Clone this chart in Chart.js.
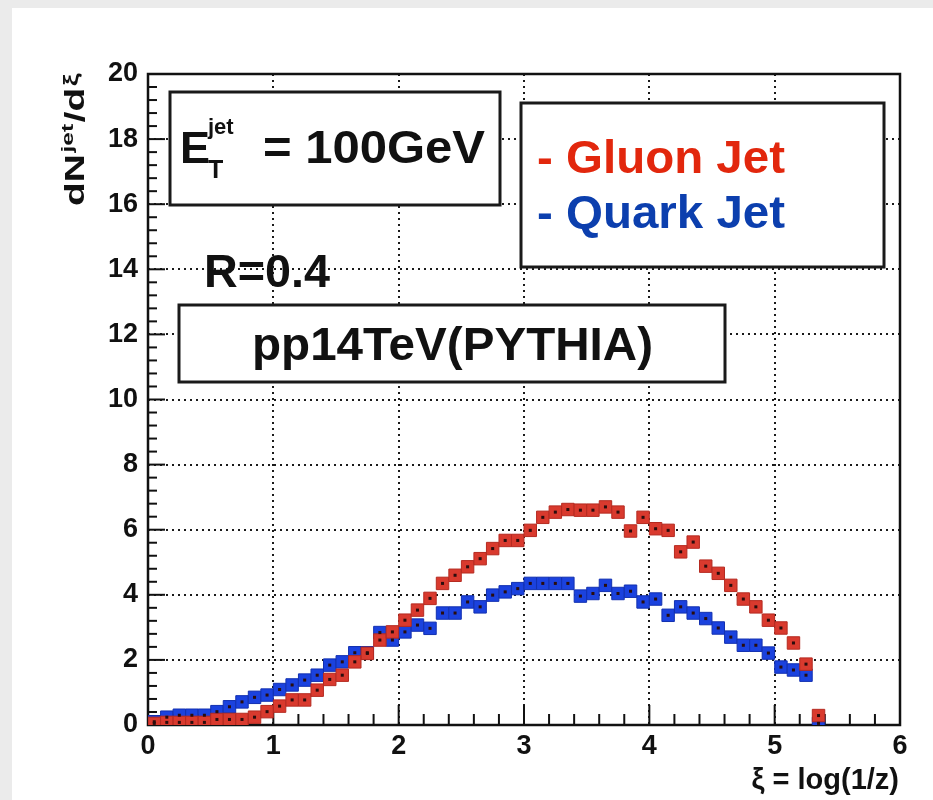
<!DOCTYPE html>
<html><head><meta charset="utf-8">
<script src="https://cdn.jsdelivr.net/npm/chart.js@4.4.1/dist/chart.umd.min.js"></script>
<style>html,body{margin:0;padding:0;background:#ebebeb;}canvas{display:block;}</style>
</head><body>
<canvas id="c" width="933" height="800"></canvas>
<script>
// xi = log(1/z) bin centres
const xiCenters = [0.05,0.15,0.25,0.35,0.45,0.55,0.65,0.75,0.85,0.95,
  1.05,1.15,1.25,1.35,1.45,1.55,1.65,1.75,1.85,1.95,
  2.05,2.15,2.25,2.35,2.45,2.55,2.65,2.75,2.85,2.95,
  3.05,3.15,3.25,3.35,3.45,3.55,3.65,3.75,3.85,3.95,
  4.05,4.15,4.25,4.35,4.45,4.55,4.65,4.75,4.85,4.95,
  5.05,5.15,5.25,5.35];
// dN/dxi, gluon jet (red)
const gluonJet = [0.05,0.08,0.08,0.08,0.08,0.17,0.17,0.17,0.24,0.41,
  0.58,0.77,0.77,1.07,1.40,1.53,1.94,2.20,2.61,2.86,
  3.22,3.53,3.89,4.35,4.60,4.86,5.11,5.42,5.67,5.67,
  5.98,6.38,6.54,6.62,6.60,6.60,6.70,6.54,5.96,6.38,
  6.03,5.98,5.32,5.62,4.88,4.66,4.29,3.87,3.63,3.22,
  2.98,2.52,1.87,0.29];
// dN/dxi, quark jet (blue)
const quarkJet = [0.10,0.24,0.30,0.30,0.30,0.41,0.56,0.71,0.85,0.92,
  1.09,1.23,1.38,1.53,1.84,1.94,2.22,2.22,2.84,2.61,
  2.86,3.07,2.97,3.44,3.44,3.78,3.63,3.99,4.09,4.19,
  4.35,4.35,4.35,4.35,3.96,4.04,4.29,4.04,4.11,3.78,
  3.87,3.37,3.63,3.44,3.27,2.98,2.70,2.45,2.45,2.21,
  1.78,1.69,1.53,0.05];
const xTicks = [0,1,2,3,4,5,6];
const yTicks = [0,2,4,6,8,10,12,14,16,18,20];

const RED = '#d93a2e', RED_EDGE = '#b52a20';
const BLUE = '#1b42de', BLUE_EDGE = '#1230b0';
const FONT = '"Liberation Sans", Arial, Helvetica, sans-serif';

function fitText(ctx, text, x, y, size, targetW, color){
  ctx.save();
  ctx.font = 'bold ' + size + 'px ' + FONT;
  ctx.fillStyle = color || '#111';
  ctx.textBaseline = 'alphabetic';
  ctx.textAlign = 'left';
  const w = ctx.measureText(text).width;
  ctx.translate(x, y);
  if (targetW) ctx.scale(targetW / w, 1);
  ctx.fillText(text, 0, 0);
  ctx.restore();
}

const decor = {
  id: 'decor',
  beforeDraw(chart){
    const c = chart.ctx;
    c.save();
    c.fillStyle = '#ebebeb'; c.fillRect(0, 0, chart.width, chart.height);
    c.fillStyle = '#ffffff'; c.fillRect(12, 8, chart.width - 12, chart.height - 8);
    c.restore();
  },
  beforeDatasetsDraw(chart){
    const {ctx, chartArea: a, scales: {x, y}} = chart;
    ctx.save();
    // dotted grid at major ticks
    ctx.strokeStyle = '#1a1a1a'; ctx.lineWidth = 2; ctx.setLineDash([2, 4]);
    xTicks.forEach(v => {
      if (v <= x.min || v >= x.max) return;
      const px = Math.round(x.getPixelForValue(v));
      ctx.beginPath(); ctx.moveTo(px, a.top); ctx.lineTo(px, a.bottom); ctx.stroke();
    });
    yTicks.forEach(v => {
      if (v <= y.min || v >= y.max) return;
      const py = Math.round(y.getPixelForValue(v));
      ctx.beginPath(); ctx.moveTo(a.left, py); ctx.lineTo(a.right, py); ctx.stroke();
    });
    ctx.setLineDash([]);
    // ticks pointing inside
    ctx.strokeStyle = '#111'; ctx.lineWidth = 2;
    for (let i = 0; i <= 30; i++) {
      const px = x.getPixelForValue(i * 0.2);
      const len = (i % 5 === 0) ? 20 : 11;
      ctx.beginPath(); ctx.moveTo(px, a.bottom); ctx.lineTo(px, a.bottom - len); ctx.stroke();
    }
    for (let i = 0; i <= 50; i++) {
      const py = y.getPixelForValue(i * 0.4);
      const len = (i % 5 === 0) ? 17 : 9;
      ctx.beginPath(); ctx.moveTo(a.left, py); ctx.lineTo(a.left + len, py); ctx.stroke();
    }
    // frame
    ctx.lineWidth = 2.5; ctx.strokeStyle = '#111';
    ctx.strokeRect(a.left, a.top, a.right - a.left, a.bottom - a.top);
    ctx.restore();
  },
  afterDatasetsDraw(chart){
    const ctx = chart.ctx;
    ctx.save();
    ctx.fillStyle = '#2a0d0d';
    chart.data.datasets.forEach((ds, i) => {
      chart.getDatasetMeta(i).data.forEach(el => {
        ctx.fillRect(el.x - 1.5, el.y - 1.5, 3, 3);
      });
    });
    ctx.restore();
  },
  afterDraw(chart){
    const ctx = chart.ctx;
    ctx.save();
    // boxes
    ctx.fillStyle = '#fff'; ctx.strokeStyle = '#1a1a1a'; ctx.lineWidth = 3;
    ctx.fillRect(170, 92, 330, 113); ctx.strokeRect(170, 92, 330, 113);
    ctx.fillRect(521, 103, 363, 164); ctx.strokeRect(521, 103, 363, 164);
    ctx.fillRect(179, 305, 546, 77); ctx.strokeRect(179, 305, 546, 77);
    // E_T^jet = 100GeV
    fitText(ctx, 'E', 180, 163, 45, 0, '#111');
    fitText(ctx, 'jet', 208, 134, 22, 0, '#111');
    fitText(ctx, 'T', 208, 178, 25, 0, '#111');
    fitText(ctx, '= 100GeV', 263, 163, 46, 222, '#111');
    // legend texts
    fitText(ctx, '- Gluon Jet', 537, 173, 46, 248, '#e2270d');
    fitText(ctx, '- Quark Jet', 537, 228, 46, 248, '#0c3fae');
    // R=0.4
    fitText(ctx, 'R=0.4', 204, 287, 46, 126, '#111');
    // pp14TeV(PYTHIA)
    fitText(ctx, 'pp14TeV(PYTHIA)', 252, 360, 46, 401, '#111');
    // x-axis title
    ctx.font = 'bold 29px ' + FONT;
    ctx.fillStyle = '#111'; ctx.textAlign = 'right'; ctx.textBaseline = 'alphabetic';
    ctx.fillText('\u03BE = log(1/z)', 899, 789);
    // y-axis title, rotated
    ctx.translate(84, 206);
    ctx.rotate(-Math.PI / 2);
    ctx.textAlign = 'left';
    const parts = [
      {t: 'dN', s: 27, dy: 0},
      {t: 'jet', s: 17, dy: -11},
      {t: '/d', s: 27, dy: 0},
      {t: '\u03BE', s: 20, dy: -6}
    ];
    let total = 0;
    parts.forEach(p => { ctx.font = 'bold ' + p.s + 'px ' + FONT; p.w = ctx.measureText(p.t).width; total += p.w + 1; });
    ctx.scale(134 / total, 1);
    let cx = 0;
    parts.forEach(p => {
      ctx.font = 'bold ' + p.s + 'px ' + FONT;
      ctx.fillText(p.t, cx, p.dy);
      cx += p.w + 1;
    });
    ctx.restore();
  }
};

const tickFont = {family: FONT, size: 27, weight: 'bold'};

new Chart(document.getElementById('c'), {
  type: 'scatter',
  data: {
    datasets: [
      {
        label: 'Gluon Jet',
        data: xiCenters.map((v, i) => ({x: v, y: gluonJet[i]})),
        pointStyle: 'rect', pointRadius: 8.8, pointBorderWidth: 1,
        backgroundColor: RED, borderColor: RED_EDGE, showLine: false
      },
      {
        label: 'Quark Jet',
        data: xiCenters.map((v, i) => ({x: v, y: quarkJet[i]})),
        pointStyle: 'rect', pointRadius: 8.8, pointBorderWidth: 1,
        backgroundColor: BLUE, borderColor: BLUE_EDGE, showLine: false
      }
    ]
  },
  options: {
    responsive: false,
    animation: false,
    events: [],
    layout: {padding: {top: 74, right: 33, left: 0, bottom: 0}},
    plugins: {legend: {display: false}, tooltip: {enabled: false}},
    scales: {
      x: {
        type: 'linear', min: 0, max: 6,
        afterFit(s){ s.height = 75; },
        afterBuildTicks(s){ s.ticks = xTicks.map(v => ({value: v})); },
        grid: {display: false, drawTicks: false},
        border: {display: false},
        ticks: {font: tickFont, color: '#111', padding: 5, maxRotation: 0, autoSkip: false}
      },
      y: {
        type: 'linear', min: 0, max: 20,
        afterFit(s){ s.width = 148; },
        afterBuildTicks(s){ s.ticks = yTicks.map(v => ({value: v})); },
        grid: {display: false, drawTicks: false},
        border: {display: false},
        ticks: {font: tickFont, color: '#111', padding: 10, autoSkip: false}
      }
    }
  },
  plugins: [decor]
});
</script>
</body></html>
